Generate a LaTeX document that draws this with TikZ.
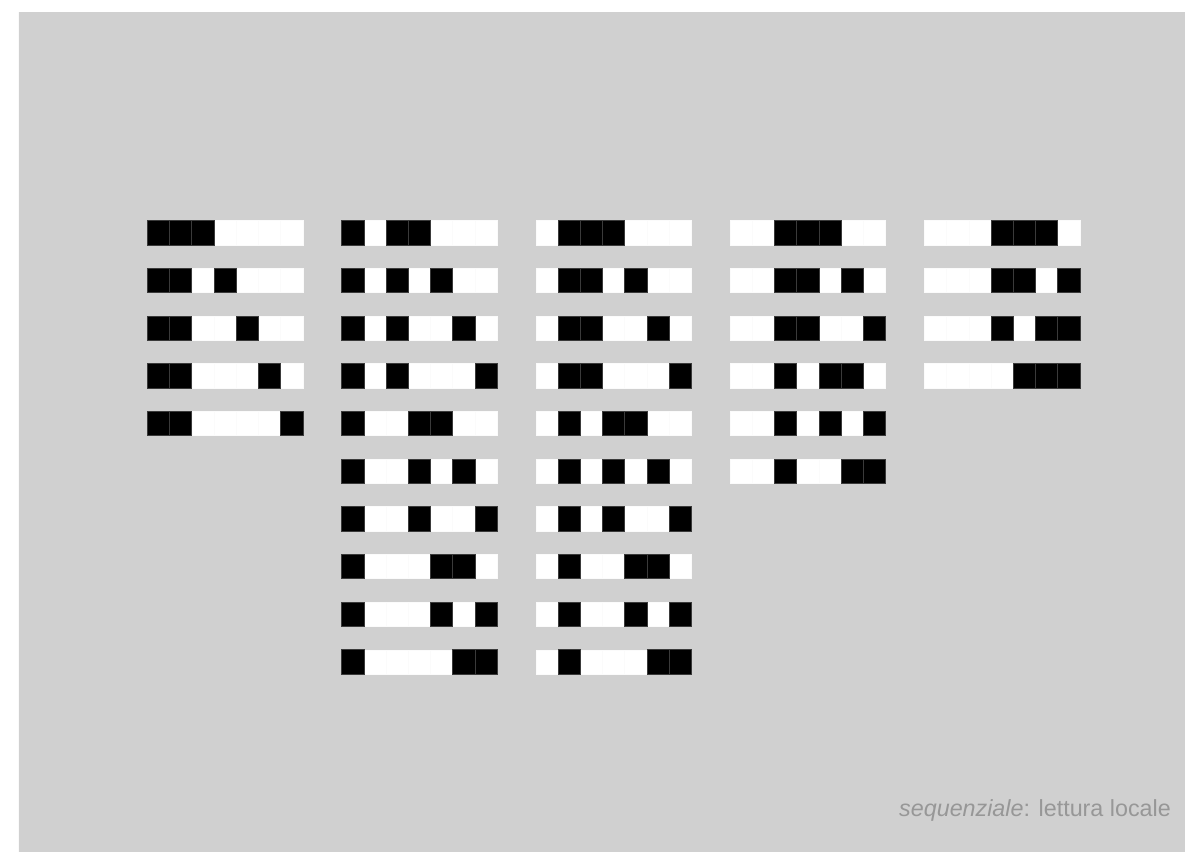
\documentclass[tikz,border=0pt]{standalone}
\usepackage{fontspec}
\setmainfont{Liberation Sans}
\definecolor{bggrey}{HTML}{D0D0D0}
\definecolor{txtgrey}{HTML}{979797}
\definecolor{cellline}{HTML}{3A3A3A}
\definecolor{wline}{HTML}{FBFBFB}
\tikzset{
  cellw/.style={draw=wline, line width=0.4pt, fill=white, minimum width=22.21pt, minimum height=24.3pt, inner sep=0pt, outer sep=0pt},
  cellb/.style={draw=cellline, line width=0.5pt, fill=black, minimum width=22.21pt, minimum height=24.3pt, inner sep=0pt, outer sep=0pt},
  caption/.style={text=txtgrey, font=\fontsize{23.3}{27}\selectfont, inner sep=0pt, anchor=base east}
}
\begin{document}
\begin{tikzpicture}[x=1pt,y=-1pt]
\useasboundingbox (0,0) rectangle (1185,852);
\fill[white] (0,0) rectangle (1185,852);
\fill[bggrey] (17.5,12) rectangle (1185,852);
\draw[white!90!bggrey, line width=0.8pt] (17.9,12) -- (17.9,852);
\foreach \col/\row/\a/\b/\c in {
 1/1/1/2/3, 1/2/1/2/4, 1/3/1/2/5, 1/4/1/2/6, 1/5/1/2/7,
 2/1/1/3/4, 2/2/1/3/5, 2/3/1/3/6, 2/4/1/3/7, 2/5/1/4/5, 2/6/1/4/6, 2/7/1/4/7, 2/8/1/5/6, 2/9/1/5/7, 2/10/1/6/7,
 3/1/2/3/4, 3/2/2/3/5, 3/3/2/3/6, 3/4/2/3/7, 3/5/2/4/5, 3/6/2/4/6, 3/7/2/4/7, 3/8/2/5/6, 3/9/2/5/7, 3/10/2/6/7,
 4/1/3/4/5, 4/2/3/4/6, 4/3/3/4/7, 4/4/3/5/6, 4/5/3/5/7, 4/6/3/6/7,
 5/1/4/5/6, 5/2/4/5/7, 5/3/4/6/7, 5/4/5/6/7}{
  \foreach \k in {1,...,7}{
    \node[cellw] (w-\col-\row-\k) at ({147.3+(\col-1)*194.25+(\k-1)*22.21+11.1},{220.5+(\row-1)*47.69+12.15}) {};
  }
  \foreach \p in {\a,\b,\c}{
    \node[cellb] (b-\col-\row-\p) at ({147.3+(\col-1)*194.25+(\p-1)*22.21+11.1},{220.5+(\row-1)*47.69+12.15}) {};
  }
}
\node[caption] (cap) at (1171,816) {\textit{sequenziale}: lettura locale};
\end{tikzpicture}
\end{document}
